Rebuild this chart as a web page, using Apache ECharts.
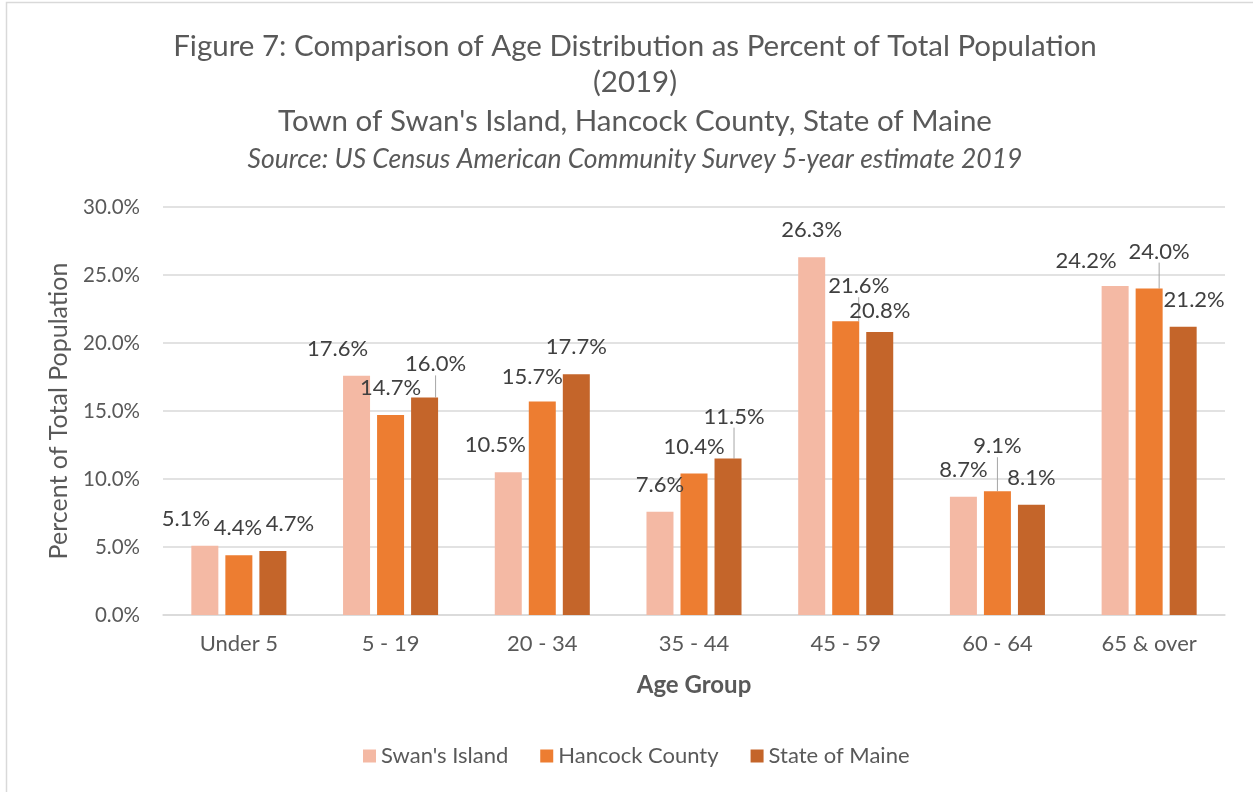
<!DOCTYPE html>
<html>
<head>
<meta charset="utf-8">
<script src="https://cdn.jsdelivr.net/npm/echarts@6/dist/echarts.min.js"></script>
<style>
html,body{margin:0;padding:0;background:#fff;}
#chart{width:1253px;height:792px;}
</style>
</head>
<body>
<div id="chart"></div>
<script>
// ---- data ----
const categories = ['Under 5', '5 - 19', '20 - 34', '35 - 44', '45 - 59', '60 - 64', '65 & over'];
const seriesNames = ["Swan's Island", 'Hancock County', 'State of Maine'];
const swansIsland = [5.1, 17.6, 10.5, 7.6, 26.3, 8.7, 24.2];
const hancockCounty = [4.4, 14.7, 15.7, 10.4, 21.6, 9.1, 24.0];
const stateOfMaine = [4.7, 16.0, 17.7, 11.5, 20.8, 8.1, 21.2];
const yTicks = [0, 5, 10, 15, 20, 25, 30];

// ---- label placement (layout only) ----
const labelShift = [
  [[-19,0],[-19,0],[-13,0],[0,0],[0,0],[0,0],[-29,2]],
  [[-1,0],[0,0],[-10,2],[0,0],[13,-8],[0,-18],[10,-10]],
  [[17,0],[11,-6],[0,0],[6,-15],[0,6],[0,0],[11,0]]
];
const leaderLines = [[], [4,5,6], [1,3]];
const colors = ['#F4B9A4', '#ED7D31', '#C4652A'];
const FONT = 'Lato, "Open Sans", sans-serif';

const values = [swansIsland, hancockCounty, stateOfMaine];

const chart = echarts.init(document.getElementById('chart'), null, {renderer: 'canvas'});

const series = values.map((vals, si) => ({
  name: seriesNames[si],
  type: 'bar',
  barWidth: 27,
  barGap: '26%',
  itemStyle: {color: colors[si]},
  data: vals.map((v, di) => leaderLines[si].indexOf(di) >= 0
    ? {value: v, labelLine: {show: true}}
    : {value: v}),
  label: {
    show: true,
    position: 'top',
    distance: 16,
    fontFamily: FONT,
    fontSize: 22,
    color: '#404040',
    formatter: p => p.value.toFixed(1) + '%'
  },
  labelLine: {show: false, lineStyle: {color: '#A6A6A6', width: 1}},
  labelLayout: function (params) {
    const s = labelShift[params.seriesIndex][params.dataIndex];
    return {dx: s[0], dy: s[1]};
  }
}));

const titleStyle = {fontFamily: FONT, fontSize: 29.5, fontWeight: 'normal', color: '#595959', lineHeight: 36};

const option = {
  animation: false,
  backgroundColor: '#ffffff',
  title: [
    {text: 'Figure 7: Comparison of Age Distribution as Percent of Total Population', left: 630, textAlign: 'center', top: 23,
      textStyle: titleStyle},
    {text: '(2019)', left: 630, textAlign: 'center', top: 59, textStyle: titleStyle},
    {text: "Town of Swan's Island, Hancock County, State of Maine", left: 630, textAlign: 'center', top: 98,
      textStyle: titleStyle},
    {text: 'Source: US Census American Community Survey 5-year estimate 2019', left: 630, textAlign: 'center', top: 139,
      textStyle: {fontFamily: FONT, fontSize: 26.5, fontStyle: 'italic', fontWeight: 'normal', color: '#595959', lineHeight: 30}}
  ],
  legend: {
    data: seriesNames,
    left: 358,
    top: 740,
    itemWidth: 13,
    itemHeight: 13,
    itemGap: 32,
    icon: 'rect',
    textStyle: {fontFamily: FONT, fontSize: 22, color: '#595959'}
  },
  grid: {left: 163, right: 28, top: 207, bottom: 177, containLabel: false},
  xAxis: {
    type: 'category',
    data: categories,
    name: 'Age Group',
    nameLocation: 'middle',
    nameGap: 58,
    nameTextStyle: {fontFamily: FONT, fontSize: 24, fontWeight: 'bold', color: '#595959'},
    axisLine: {lineStyle: {color: '#D9D9D9', width: 1.5}},
    axisTick: {show: false},
    axisLabel: {fontFamily: FONT, fontSize: 22, color: '#595959', margin: 18}
  },
  yAxis: {
    type: 'value',
    min: yTicks[0],
    max: yTicks[yTicks.length - 1],
    interval: 5,
    name: 'Percent of Total Population',
    nameLocation: 'middle',
    nameGap: 92,
    nameTextStyle: {fontFamily: FONT, fontSize: 25, color: '#595959'},
    axisLine: {show: false},
    axisTick: {show: false},
    splitLine: {lineStyle: {color: '#D9D9D9', width: 1.5}},
    axisLabel: {fontFamily: FONT, fontSize: 20.5, color: '#595959', margin: 23,
      formatter: v => v.toFixed(1) + '%'}
  },
  graphic: [
    {type: 'rect', shape: {x: 6.5, y: 2.5, width: 1300, height: 850}, silent: true,
      style: {fill: 'none', stroke: '#D9D9D9', lineWidth: 1.5}, z: -10}
  ],
  series: series
};

chart.setOption(option);
</script>
</body>
</html>
